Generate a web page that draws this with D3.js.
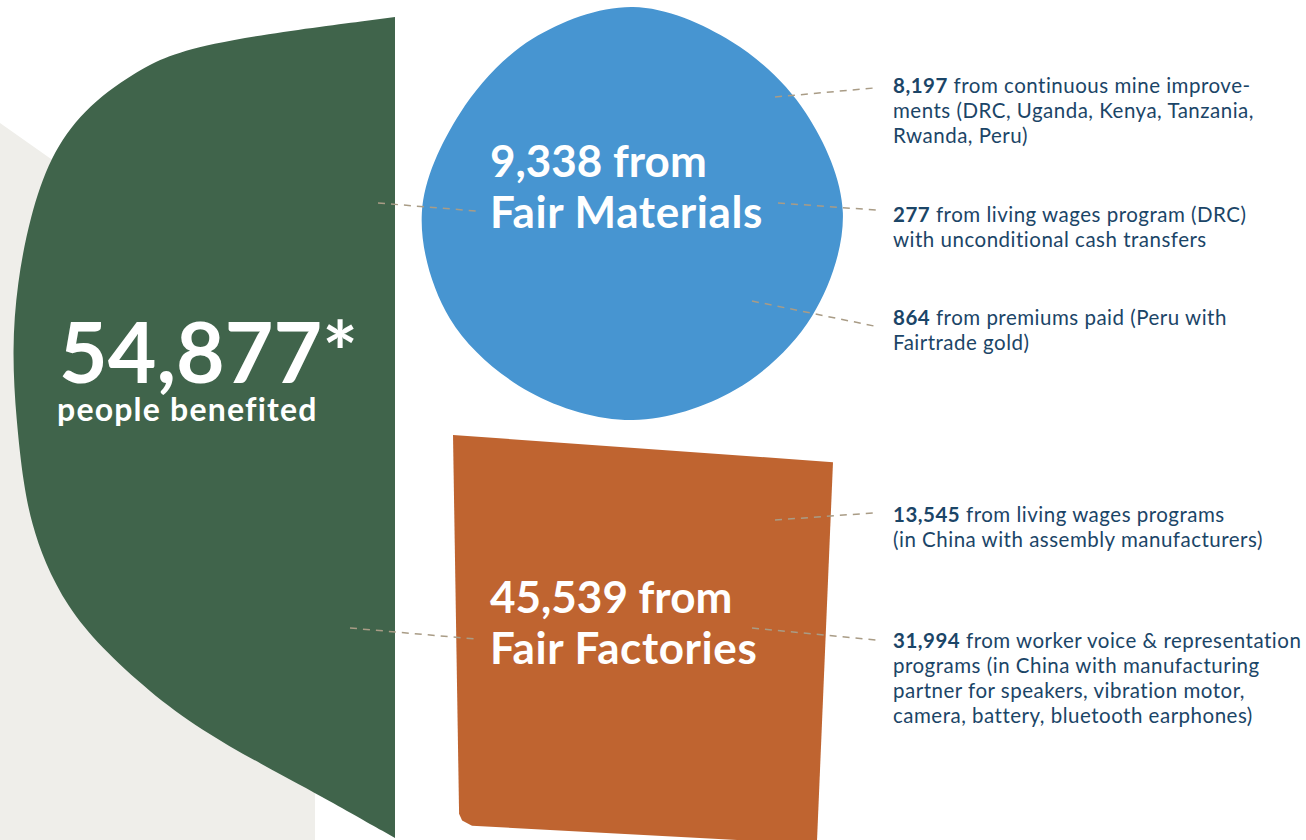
<!DOCTYPE html>
<html>
<head>
<meta charset="utf-8">
<script src="https://cdn.jsdelivr.net/npm/d3@7"></script>
<style>
  html, body { margin: 0; padding: 0; background: #fff; }
  svg { display: block; }
</style>
</head>
<body>
<svg id="chart" width="1306" height="840"></svg>
<script>
// totals and breakdown (people benefited)
var total = 54877
var groups = ["Fair Materials", "Fair Factories"]
var groupValues = [9338, 45539]
var groupColors = ["#4795d1", "#bf6430"]

var subValues = [8197, 277, 864, 13545, 31994]
var subGroup = [0, 0, 0, 1, 1]
var subLabels = [
  ["from continuous mine improve-", "ments (DRC, Uganda, Kenya, Tanzania,", "Rwanda, Peru)"],
  ["from living wages program (DRC)", "with unconditional cash transfers"],
  ["from premiums paid (Peru with", "Fairtrade gold)"],
  ["from living wages programs", "(in China with assembly manufacturers)"],
  ["from worker voice & representation", "programs (in China with manufacturing", "partner for speakers, vibration motor,", "camera, battery, bluetooth earphones)"]
]

var fmt = d3.format(",")
var svg = d3.select("#chart")

/* layout: boxes that the shape outlines get scaled into */
var greenBox = { x0: 12, x1: 395, y0: 17, y1: 838 }
var groupBoxes = [
  { x0: 421, x1: 845, y0: 7, y1: 420 },
  { x0: 453, x1: 833, y0: 435, y1: 840 }
]
var labelPos = [[490, 177], [490, 613]]
var subPos = [[893, 93], [893, 222], [893, 325], [893, 522], [893, 648]]
// connector lines: from shape to label
var groupLinks = [[[378, 203], [476, 211]], [[350, 628], [476, 639]]]
var subLinks = [
  [[775, 97], [874, 88]],
  [[778, 203], [876, 210]],
  [[752, 301], [879, 327]],
  [[775, 520], [873, 513]],
  [[752, 628], [876, 640]]
]

// background grey shape
svg.append("path")
  .attr("d", "M0,123L315,345L315,840L0,840Z")
  .attr("fill", "#efeeea")

// unit outlines (0..1), scaled into each box
function shape(points, box, curve) {
  var x = d3.scaleLinear().domain([0, 1]).range([box.x0, box.x1])
  var y = d3.scaleLinear().domain([0, 1]).range([box.y0, box.y1])
  return d3.line().x(function(p) { return x(p[0]) }).y(function(p) { return y(p[1]) })
    .curve(curve)(points)
}

var greenOutline = [
  [1, 0], [0.465, 0.032], [0.316, 0.068], [0.185, 0.113], [0.099, 0.17], [0.047, 0.243],
  [0.013, 0.324], [0, 0.406], [0.011, 0.491], [0.03, 0.57], [0.052, 0.618],
  [0.085, 0.664], [0.144, 0.718], [0.23, 0.767], [0.359, 0.822], [0.491, 0.868],
  [0.666, 0.914], [0.796, 0.946], [1, 1]
]
svg.append("path")
  .attr("d", shape(greenOutline, greenBox, d3.curveBasis) + "Z")
  .attr("fill", "#40644b")

var blobOutline = [
  [0.5, 0], [0.733, 0.084], [0.908, 0.257], [0.995, 0.499], [0.922, 0.749],
  [0.741, 0.927], [0.5, 1], [0.256, 0.932], [0.068, 0.754], [0.002, 0.499],
  [0.092, 0.257], [0.263, 0.077]
]
svg.append("path")
  .attr("d", shape(blobOutline, groupBoxes[0], d3.curveCatmullRomClosed.alpha(0.5)))
  .attr("fill", groupColors[0])

var slabOutline = [
  [0, 0], [1, 0.067], [0.958, 1], [0.947, 1.01], [0.05, 0.965], [0.024, 0.952],
  [0.016, 0.935], [0, 0]
]
svg.append("path")
  .attr("d", shape(slabOutline, groupBoxes[1], d3.curveLinear) + "Z")
  .attr("fill", groupColors[1])

// dashed connectors
var link = d3.line()
svg.selectAll(".link")
  .data(groupLinks.concat(subLinks))
  .enter().append("path")
  .attr("class", "link")
  .attr("d", function(d) { return link(d) })
  .attr("fill", "none")
  .attr("stroke", "#a99c86")
  .attr("stroke-width", 1.5)
  .attr("stroke-dasharray", "7,6")

var headFont = "Lato, 'Open Sans', sans-serif"

// big total
svg.append("text")
  .attr("x", 59).attr("y", 383)
  .attr("font-family", headFont).attr("font-weight", 700)
  .attr("font-size", 84).attr("fill", "#fff")
  .text(fmt(total) + "*")
svg.append("text")
  .attr("x", 57).attr("y", 421)
  .attr("font-family", headFont).attr("font-weight", 700)
  .attr("font-size", 32).attr("letter-spacing", 1.2).attr("fill", "#fff")
  .text("people benefited")

// group labels
groups.forEach(function(g, i) {
  var t = svg.append("text")
    .attr("font-family", headFont).attr("font-weight", 700)
    .attr("font-size", 44).attr("fill", "#fff")
  t.append("tspan").attr("x", labelPos[i][0]).attr("y", labelPos[i][1])
    .text(fmt(groupValues[i]) + " from")
  t.append("tspan").attr("x", labelPos[i][0]).attr("y", labelPos[i][1] + 51)
    .attr("letter-spacing", 0.6)
    .text(g)
})

// breakdown labels
subValues.forEach(function(v, i) {
  var t = svg.append("text")
    .attr("font-family", headFont)
    .attr("font-size", 20.5).attr("letter-spacing", 0.5).attr("fill", "#1b4567")
  subLabels[i].forEach(function(line, j) {
    var ts = t.append("tspan").attr("x", subPos[i][0]).attr("y", subPos[i][1] + j * 25)
    if (j === 0) {
      ts.append("tspan").attr("font-weight", 700).text(fmt(v))
      ts.append("tspan").text(" " + line)
    } else {
      ts.text(line)
    }
  })
})
</script>
</body>
</html>
